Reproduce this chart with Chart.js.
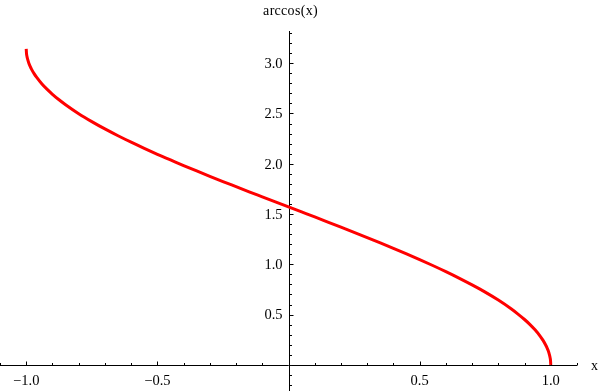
<!DOCTYPE html>
<html>
<head>
<meta charset="utf-8">
<script src="https://cdn.jsdelivr.net/npm/chart.js@4/dist/chart.umd.min.js"></script>
<style>
  html, body { margin: 0; padding: 0; background: #fff; }
  canvas { display: block; }
</style>
</head>
<body>
<canvas id="arccosChart" width="600" height="391"></canvas>
<script>
// Points (x, arccos(x)), denser near the steep ends
const xValues = [-1, -0.999, -0.9975, -0.995, -0.99, -0.985, -0.98, -0.97, -0.96, -0.94, -0.92, -0.9, -0.875, -0.85,
  -0.8, -0.75, -0.7, -0.65, -0.6, -0.55, -0.5, -0.45, -0.4, -0.35, -0.3, -0.25, -0.2, -0.15, -0.1, -0.05,
  0, 0.05, 0.1, 0.15, 0.2, 0.25, 0.3, 0.35, 0.4, 0.45, 0.5, 0.55, 0.6, 0.65, 0.7, 0.75, 0.8,
  0.85, 0.875, 0.9, 0.92, 0.94, 0.96, 0.97, 0.98, 0.985, 0.99, 0.995, 0.9975, 0.999, 1];
const yValues = [3.142, 3.097, 3.071, 3.042, 3.000, 2.968, 2.941, 2.896, 2.858, 2.793, 2.739, 2.691, 2.636, 2.587,
  2.498, 2.419, 2.346, 2.278, 2.214, 2.153, 2.094, 2.038, 1.982, 1.928, 1.875, 1.823, 1.772, 1.721, 1.671, 1.621,
  1.571, 1.521, 1.471, 1.420, 1.369, 1.318, 1.266, 1.213, 1.159, 1.104, 1.047, 0.988, 0.927, 0.863, 0.795, 0.723, 0.644,
  0.555, 0.505, 0.451, 0.403, 0.348, 0.284, 0.246, 0.200, 0.173, 0.142, 0.100, 0.071, 0.045, 0];

// Tick labels
const xTickValues = [-1, -0.5, 0.5, 1];
const xTickLabels = ['\u22121.0', '\u22120.5', '0.5', '1.0'];
const yTickValues = [0.5, 1, 1.5, 2, 2.5, 3];
const yTickLabels = ['0.5', '1.0', '1.5', '2.0', '2.5', '3.0'];

const points = xValues.map((x, i) => ({ x: x, y: yValues[i] }));

// Mathematica-style axes crossing at the origin
const axesPlugin = {
  id: 'originAxes',
  beforeDatasetsDraw(chart) {
    const ctx = chart.ctx;
    const xs = chart.scales.x;
    const ys = chart.scales.y;
    const area = chart.chartArea;
    const x0 = Math.round(xs.getPixelForValue(0)) + 0.5;
    const y0 = Math.round(ys.getPixelForValue(0)) + 0.5;

    ctx.save();
    ctx.strokeStyle = '#000';
    ctx.lineWidth = 1;
    ctx.beginPath();
    ctx.moveTo(area.left, y0);
    ctx.lineTo(area.right, y0);
    ctx.moveTo(x0, area.top);
    ctx.lineTo(x0, area.bottom);

    // x ticks, every 0.1
    for (let i = -11; i <= 11; i++) {
      if (i === 0) continue;
      const px = Math.round(xs.getPixelForValue(i / 10)) + 0.5;
      const len = i % 5 === 0 ? 4 : 2.5;
      ctx.moveTo(px, y0);
      ctx.lineTo(px, y0 - len);
    }
    // y ticks, every 0.1
    for (let i = -2; i <= 33; i++) {
      if (i === 0) continue;
      const py = Math.round(ys.getPixelForValue(i / 10)) + 0.5;
      const len = i % 5 === 0 ? 4 : 2.5;
      ctx.moveTo(x0, py);
      ctx.lineTo(x0 + len, py);
    }
    ctx.stroke();

    ctx.fillStyle = '#000';
    ctx.font = '14.5px "Liberation Serif", "Times New Roman", serif';
    ctx.textAlign = 'center';
    ctx.textBaseline = 'alphabetic';
    xTickValues.forEach((v, i) => {
      ctx.fillText(xTickLabels[i], xs.getPixelForValue(v), y0 + 19);
    });
    ctx.textAlign = 'right';
    ctx.textBaseline = 'middle';
    yTickValues.forEach((v, i) => {
      ctx.fillText(yTickLabels[i], x0 - 7, ys.getPixelForValue(v) + 1);
    });

    ctx.font = '14px "Liberation Serif", "Times New Roman", serif';
    ctx.letterSpacing = '0.3px';
    ctx.textAlign = 'center';
    ctx.textBaseline = 'alphabetic';
    ctx.fillText('arccos(x)', x0 + 1, 15);
    ctx.letterSpacing = '0px';
    ctx.textAlign = 'left';
    ctx.textBaseline = 'middle';
    ctx.fillText('x', area.right + 14, y0 + 1);
    ctx.restore();
  }
};

new Chart(document.getElementById('arccosChart'), {
  type: 'line',
  data: {
    datasets: [{
      data: points,
      borderColor: 'rgb(255, 0, 0)',
      borderWidth: 3,
      pointRadius: 0,
      fill: false,
      cubicInterpolationMode: 'monotone',
      clip: false
    }]
  },
  options: {
    responsive: false,
    animation: false,
    layout: { padding: { top: 31, right: 23, bottom: 0, left: 0 } },
    plugins: {
      legend: { display: false },
      tooltip: { enabled: false }
    },
    scales: {
      x: { type: 'linear', min: -1.1, max: 1.1, display: false },
      y: { type: 'linear', min: -0.26, max: 3.32, display: false }
    }
  },
  plugins: [axesPlugin]
});
</script>
</body>
</html>
